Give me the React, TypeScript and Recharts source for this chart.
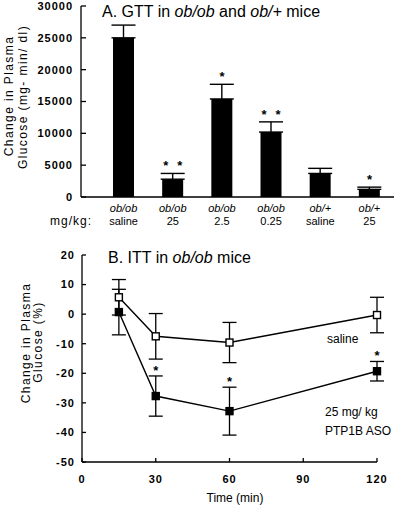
import React from 'react';
import { Bar, ComposedChart, ErrorBar, LabelList, Line, XAxis, YAxis } from 'recharts';

// Panel A: GTT area under curve
const gttGroups = ['ob/ob', 'ob/ob', 'ob/ob', 'ob/ob', 'ob/+', 'ob/+'];
const gttDoses = ['saline', '25', '2.5', '0.25', 'saline', '25'];
const gttValues = [25000, 2800, 15400, 10200, 3700, 1200];
const gttErrors = [2000, 900, 2300, 1600, 800, 350];
const gttStars = ['', '**', '*', '**', '', '*'];
const gttTicks = [0, 5000, 10000, 15000, 20000, 25000, 30000];

// Panel B: ITT time course
const ittTimes = [15, 30, 60, 120];
const salineValues = [5.7, -7.5, -9.6, -0.3];
const salineErrors = [6, 7.7, 6.8, 6];
const asoValues = [0.7, -27.7, -32.8, -19.3];
const asoErrors = [7.7, 6.8, 8.1, 3.3];
const asoStars = ['', '*', '*', '*'];
const ittYTicks = [20, 10, 0, -10, -20, -30, -40, -50];
const ittXTicks = [0, 30, 60, 90, 120];

const gttData = gttValues.map((v, i) => ({
  key: gttGroups[i] + ' ' + gttDoses[i],
  value: v,
  err: [0, gttErrors[i]],
  top: v + gttErrors[i],
  stars: gttStars[i],
}));

const ittData = ittTimes.map((t, i) => ({
  time: t,
  saline: salineValues[i],
  salineErr: salineErrors[i],
  aso: asoValues[i],
  asoErr: asoErrors[i],
  asoTop: asoValues[i] + asoErrors[i],
  stars: asoStars[i],
}));

const FONT = '"Liberation Sans", Arial, Helvetica, sans-serif';
const tickStyle = { fill: '#000', fontSize: 11, fontWeight: 700, letterSpacing: 1 };

const GttTick = (props: any) => {
  const { x, y, payload } = props;
  const i = payload.index;
  return (
    <g>
      <text x={x} y={y + 15} textAnchor="middle" fontSize={11} fontStyle="italic" fill="#000">
        {gttGroups[i]}
      </text>
      <text x={x} y={y + 28} textAnchor="middle" fontSize={11} fill="#000">
        {gttDoses[i]}
      </text>
    </g>
  );
};

const Stars = (props: any) => {
  const { x, y, value, gap = 14, lift = 3 } = props;
  if (!value) return null;
  const n = String(value).length;
  return (
    <g>
      {Array.from({ length: n }).map((_, k) => (
        <text
          key={k}
          x={x + (k - (n - 1) / 2) * gap}
          y={y - lift}
          textAnchor="middle"
          fontSize={13}
          fontWeight={700}
          fill="#000"
        >
          *
        </text>
      ))}
    </g>
  );
};

const Square = (filled: boolean) => (props: any) => {
  const { cx, cy, index } = props;
  return (
    <rect
      key={index}
      x={cx - 3.5}
      y={cy - 3.5}
      width={7}
      height={7}
      fill={filled ? '#000' : '#fff'}
      stroke="#000"
      strokeWidth={1.4}
    />
  );
};

const VLabel = ({ cx, cy, text, size = 12 }: { cx: number; cy: number; text: string; size?: number }) => (
  <text
    transform={`translate(${cx},${cy}) rotate(-90)`}
    textAnchor="middle"
    dominantBaseline="central"
    fontSize={size}
    letterSpacing={1.4}
    fill="#000"
  >
    {text}
  </text>
);

export default function App() {
  return (
    <div
      style={{
        position: 'absolute',
        left: 0,
        top: 0,
        width: 400,
        height: 509,
        background: '#fff',
        fontFamily: FONT,
      }}
    >
      <div style={{ position: 'absolute', left: 0, top: 0 }}>
        <ComposedChart width={400} height={230} data={gttData} margin={{ top: 6, right: 6, bottom: 0, left: 21 }}>
          <XAxis
            dataKey="key"
            height={33}
            interval={0}
            padding={{ left: 18, right: 0 }}
            tick={<GttTick />}
            tickLine={false}
            tickSize={0}
            tickMargin={0}
            axisLine={{ stroke: '#000', strokeWidth: 1.3 }}
          />
          <YAxis
            width={60}
            domain={[0, 30000]}
            ticks={gttTicks}
            tickSize={-5}
            tickMargin={13}
            tick={tickStyle}
            tickLine={{ stroke: '#000', strokeWidth: 1.3 }}
            axisLine={{ stroke: '#000', strokeWidth: 1.3 }}
          />
          <Bar dataKey="value" fill="#000" barSize={21} isAnimationActive={false}>
            <ErrorBar dataKey="err" width={12} stroke="#000" strokeWidth={1.4} direction="y" />
          </Bar>
          <Line dataKey="top" stroke="none" dot={false} activeDot={false} isAnimationActive={false}>
            <LabelList dataKey="stars" content={(p: any) => <Stars {...p} gap={14} lift={3} />} />
          </Line>
        </ComposedChart>
      </div>

      <div style={{ position: 'absolute', left: 0, top: 230 }}>
        <ComposedChart width={400} height={279} data={ittData} margin={{ top: 25, right: 23, bottom: 0, left: 22 }}>
          <XAxis
            dataKey="time"
            type="number"
            domain={[0, 120]}
            ticks={ittXTicks}
            height={47}
            tickSize={-4}
            tickMargin={17}
            tick={tickStyle}
            tickLine={{ stroke: '#000', strokeWidth: 1.3 }}
            axisLine={{ stroke: '#000', strokeWidth: 1.3 }}
          />
          <YAxis
            width={60}
            type="number"
            domain={[-50, 20]}
            ticks={ittYTicks}
            tickSize={-4}
            tickMargin={11}
            tick={tickStyle}
            tickLine={{ stroke: '#000', strokeWidth: 1.3 }}
            axisLine={{ stroke: '#000', strokeWidth: 1.3 }}
          />
          <Line
            dataKey="aso"
            stroke="#000"
            strokeWidth={1.4}
            dot={Square(true)}
            activeDot={false}
            isAnimationActive={false}
          >
            <ErrorBar dataKey="asoErr" width={7} stroke="#000" strokeWidth={1.3} direction="y" />
          </Line>
          <Line
            dataKey="saline"
            stroke="#000"
            strokeWidth={1.4}
            dot={Square(false)}
            activeDot={false}
            isAnimationActive={false}
          >
            <ErrorBar dataKey="salineErr" width={7} stroke="#000" strokeWidth={1.3} direction="y" />
          </Line>
          <Line dataKey="asoTop" stroke="none" dot={false} activeDot={false} isAnimationActive={false}>
            <LabelList dataKey="stars" content={(p: any) => <Stars {...p} lift={1} />} />
          </Line>
        </ComposedChart>
      </div>

      <svg
        width={400}
        height={509}
        style={{ position: 'absolute', left: 0, top: 0, pointerEvents: 'none', fontFamily: FONT }}
      >
        <text x={102} y={17} fontSize={16} fill="#000">
          A. GTT in <tspan fontStyle="italic">ob/ob</tspan> and <tspan fontStyle="italic">ob/+</tspan> mice
        </text>
        <VLabel cx={8.5} cy={96} text="Change in Plasma" />
        <VLabel cx={23} cy={97} text="Glucose (mg- min/ dl)" />
        <text x={50} y={225} fontSize={12} letterSpacing={1} fill="#000">
          mg/kg:
        </text>

        <text x={108} y={263} fontSize={16} fill="#000">
          B. ITT in <tspan fontStyle="italic">ob/ob</tspan> mice
        </text>
        <VLabel cx={26} cy={343} text="Change in Plasma" />
        <VLabel cx={37.5} cy={342} text="Glucose (%)" />
        <text x={327} y={343} fontSize={12} fill="#000">
          saline
        </text>
        <text x={325} y={416} fontSize={12} fill="#000">
          25 mg/ kg
        </text>
        <text x={325} y={435} fontSize={12} fill="#000">
          PTP1B ASO
        </text>
        <text x={235} y={502} fontSize={12} textAnchor="middle" fill="#000">
          Time (min)
        </text>
      </svg>
    </div>
  );
}
